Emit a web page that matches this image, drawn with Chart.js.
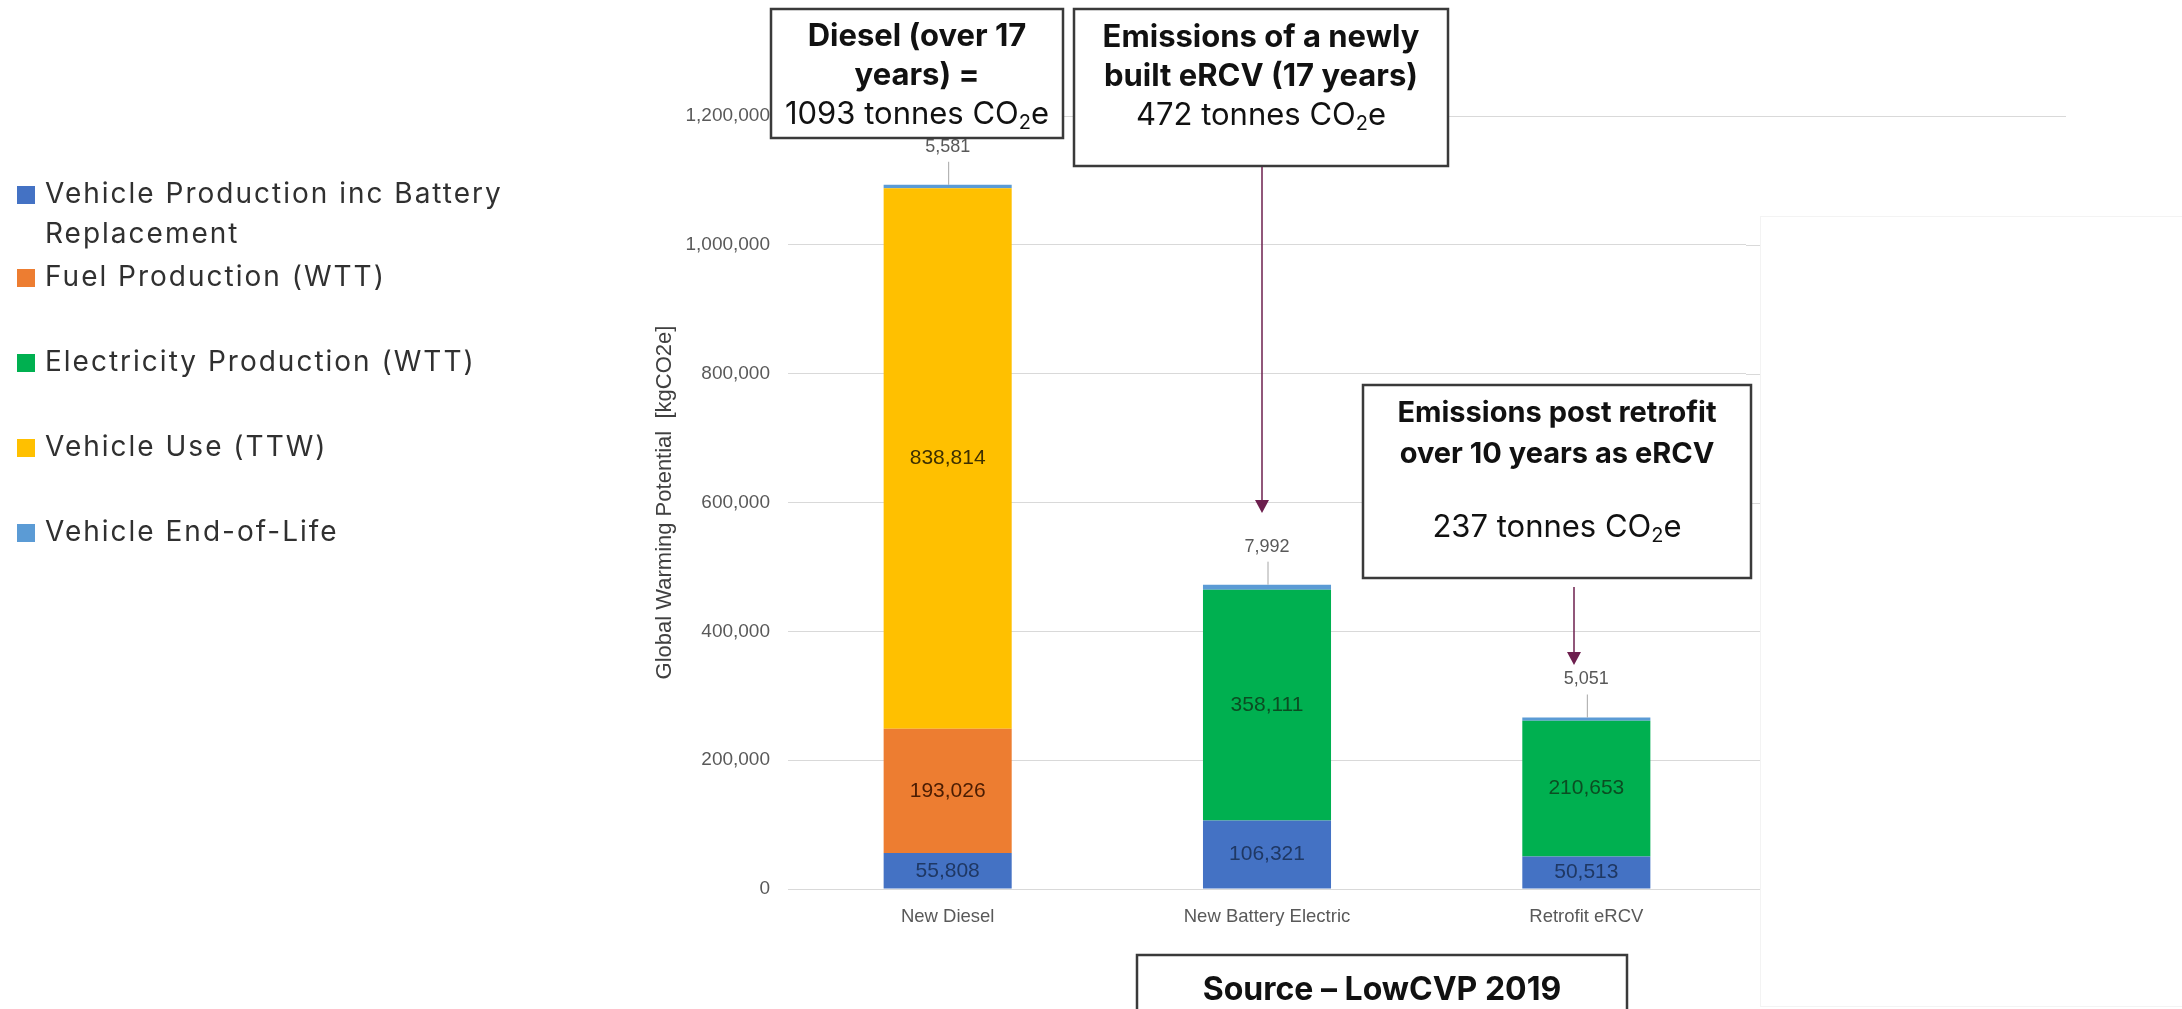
<!DOCTYPE html>
<html>
<head>
<meta charset="utf-8">
<script src="https://cdn.jsdelivr.net/npm/chart.js@4.4.0/dist/chart.umd.min.js"></script>
<style>
  html, body { margin: 0; padding: 0; background: #fff; }
</style>
</head>
<body>
<canvas id="myChart" width="2182" height="1009"></canvas>
<script>
// data (kgCO2e)
const categories = ['New Diesel', 'New Battery Electric', 'Retrofit eRCV'];
const seriesNames = [
  'Vehicle Production inc Battery Replacement',
  'Fuel Production (WTT)',
  'Electricity Production (WTT)',
  'Vehicle Use (TTW)',
  'Vehicle End-of-Life'
];
const vehicleProduction = [55808, 106321, 50513];
const fuelProduction = [193026, 0, 0];
const electricityProduction = [0, 358111, 210653];
const vehicleUse = [838814, 0, 0];
const endOfLife = [5581, 7992, 5051];
const yTicks = [0, 200000, 400000, 600000, 800000, 1000000, 1200000];

const colors = ['#4472C4', '#ED7D31', '#00B050', '#FFC000', '#5B9BD5'];
const labelColors = ['#1F3864', '#4a1c02', '#0b4d22', '#3d2f00', '#595959'];

const ctx = document.getElementById('myChart');

const allSeries = [vehicleProduction, fuelProduction, electricityProduction, vehicleUse, endOfLife];
const datasets = allSeries.map(function (vals, i) {
  return {
    label: seriesNames[i],
    data: vals,
    backgroundColor: colors[i],
    borderWidth: 0,
    categoryPercentage: 1,
    barPercentage: 0.401
  };
});

function fmt(v) { return v.toLocaleString('en-US'); }

// text with a subscript "2" in CO2e
function drawRuns(c, runs, cx, cy) {
  let w = 0;
  runs.forEach(function (r) { c.font = r.font; w += c.measureText(r.t).width; });
  let x = cx - w / 2;
  c.textAlign = 'left';
  c.textBaseline = 'middle';
  runs.forEach(function (r) {
    c.font = r.font;
    c.fillText(r.t, x, cy + (r.dy || 0));
    x += c.measureText(r.t).width;
  });
}

const BOLD = '700 31px Inter';
const BOLD_SM = '700 29px Inter';
const REG = '400 31px Inter';
const SUB = '400 20px Inter';
function co2(prefix) {
  return [{t: prefix + 'CO', font: REG}, {t: '2', font: SUB, dy: 8}, {t: 'e', font: REG}];
}

const segmentLabels = {
  id: 'segmentLabels',
  afterDatasetsDraw(chart) {
    const c = chart.ctx;
    c.save();
    c.textAlign = 'center';
    c.textBaseline = 'middle';
    chart.data.datasets.forEach(function (ds, i) {
      const meta = chart.getDatasetMeta(i);
      meta.data.forEach(function (bar, j) {
        const v = ds.data[j];
        if (!v) return;
        if (i < 4) {
          c.font = '21px "Liberation Sans"';
          c.fillStyle = labelColors[i];
          c.fillText(fmt(v), bar.x, (bar.y + bar.base) / 2);
        } else {
          // small end-of-life value sits above the bar with a leader line
          c.strokeStyle = '#a6a6a6';
          c.lineWidth = 1;
          c.beginPath();
          c.moveTo(bar.x + 1, bar.y);
          c.lineTo(bar.x + 1, bar.y - 23);
          c.stroke();
          c.font = '18px "Liberation Sans"';
          c.fillStyle = labelColors[4];
          c.fillText(fmt(v), bar.x, bar.y - 38);
        }
      });
    });
    c.restore();
  }
};

const extras = {
  id: 'extras',
  beforeDatasetsDraw(chart) {
    // gridlines run a little past the plot, the top one much further
    const c = chart.ctx, y = chart.scales.y, area = chart.chartArea;
    c.save();
    c.strokeStyle = '#d9d9d9';
    c.lineWidth = 1;
    yTicks.forEach(function (t) {
      const py = Math.round(y.getPixelForValue(t)) + 0.5;
      c.beginPath();
      c.moveTo(area.right, py);
      c.lineTo(t === 1200000 ? 2066 : 1760, py);
      c.stroke();
    });
    c.strokeStyle = '#f3f3f3';
    c.strokeRect(1760.5, 216.5, 440, 790);
    c.restore();
  },
  afterDraw(chart) {
    const c = chart.ctx;
    c.save();

    // legend
    const legendY = [195, 278, 363, 448, 533];
    c.textAlign = 'left';
    c.textBaseline = 'middle';
    c.font = '28px Inter';
    c.letterSpacing = '2px';
    chart.data.datasets.forEach(function (ds, i) {
      c.fillStyle = ds.backgroundColor;
      c.fillRect(17, legendY[i] - 9, 18, 18);
      c.fillStyle = '#303030';
      if (i === 0) {
        c.fillText('Vehicle Production inc Battery', 45, legendY[i]);
        c.fillText('Replacement', 45, legendY[i] + 40);
      } else {
        c.fillText(ds.label, 45, legendY[i]);
      }
    });
    c.letterSpacing = '0px';

    // annotation boxes
    function box(x0, y0, x1, y1) {
      c.fillStyle = '#ffffff';
      c.fillRect(x0, y0, x1 - x0, y1 - y0);
      c.strokeStyle = '#3a3a3a';
      c.lineWidth = 2.5;
      c.strokeRect(x0, y0, x1 - x0, y1 - y0);
    }
    function arrow(x, y0, y1) {
      c.strokeStyle = '#6d1f4e';
      c.fillStyle = '#6d1f4e';
      c.lineWidth = 1.5;
      c.beginPath();
      c.moveTo(x, y0);
      c.lineTo(x, y1 - 10);
      c.stroke();
      c.beginPath();
      c.moveTo(x - 7, y1 - 13);
      c.lineTo(x + 7, y1 - 13);
      c.lineTo(x, y1);
      c.closePath();
      c.fill();
    }

    box(771, 9, 1063, 138);
    c.fillStyle = '#111111';
    drawRuns(c, [{t: 'Diesel (over 17', font: BOLD}], 917, 37);
    drawRuns(c, [{t: 'years) =', font: BOLD}], 917, 76);
    drawRuns(c, co2('1093 tonnes '), 917, 115);

    box(1074, 9, 1448, 166);
    c.fillStyle = '#111111';
    drawRuns(c, [{t: 'Emissions of a newly', font: BOLD}], 1261, 38);
    drawRuns(c, [{t: 'built eRCV (17 years)', font: BOLD}], 1261, 77);
    drawRuns(c, co2('472 tonnes '), 1261, 116);
    arrow(1262, 167, 513);

    box(1363, 385, 1751, 578);
    c.fillStyle = '#111111';
    drawRuns(c, [{t: 'Emissions post retrofit', font: BOLD_SM}], 1557, 413);
    drawRuns(c, [{t: 'over 10 years as eRCV', font: BOLD_SM}], 1557, 454);
    drawRuns(c, co2('237 tonnes '), 1557, 528);
    arrow(1574, 587, 665);

    box(1137, 955, 1627, 1020);
    c.fillStyle = '#111111';
    drawRuns(c, [{t: 'Source \u2013 LowCVP 2019', font: '700 32px Inter'}], 1382, 990);

    c.restore();
  }
};

const config = {
  type: 'bar',
  data: {
    labels: categories,
    datasets: datasets
  },
  options: {
    responsive: false,
    animation: false,
    devicePixelRatio: 1,
    layout: {
      padding: {left: 650, right: 436, top: 116, bottom: 70}
    },
    plugins: {
      legend: {display: false},
      tooltip: {enabled: false}
    },
    scales: {
      x: {
        stacked: true,
        grid: {display: false, drawTicks: false},
        border: {color: '#d9d9d9'},
        ticks: {
          color: '#595959',
          font: {family: 'Liberation Sans', size: 18.5},
          padding: 17
        },
        afterFit: function (scale) { scale.height = 50; }
      },
      y: {
        stacked: true,
        min: 0,
        max: 1200000,
        afterBuildTicks: function (scale) {
          scale.ticks = yTicks.map(function (v) { return {value: v}; });
        },
        ticks: {
          color: '#595959',
          font: {family: 'Liberation Sans', size: 19},
          padding: 18,
          callback: function (v) { return fmt(v); }
        },
        grid: {color: '#d9d9d9', drawTicks: false},
        border: {display: false},
        title: {
          display: true,
          text: 'Global Warming Potential  [kgCO2e]',
          color: '#404040',
          font: {family: 'Liberation Sans', size: 22},
          padding: {top: 2, bottom: 0}
        },
        afterFit: function (scale) { scale.width = 138; }
      }
    }
  },
  plugins: [segmentLabels, extras]
};

const myChart = new Chart(ctx, config);
</script>
</body>
</html>
